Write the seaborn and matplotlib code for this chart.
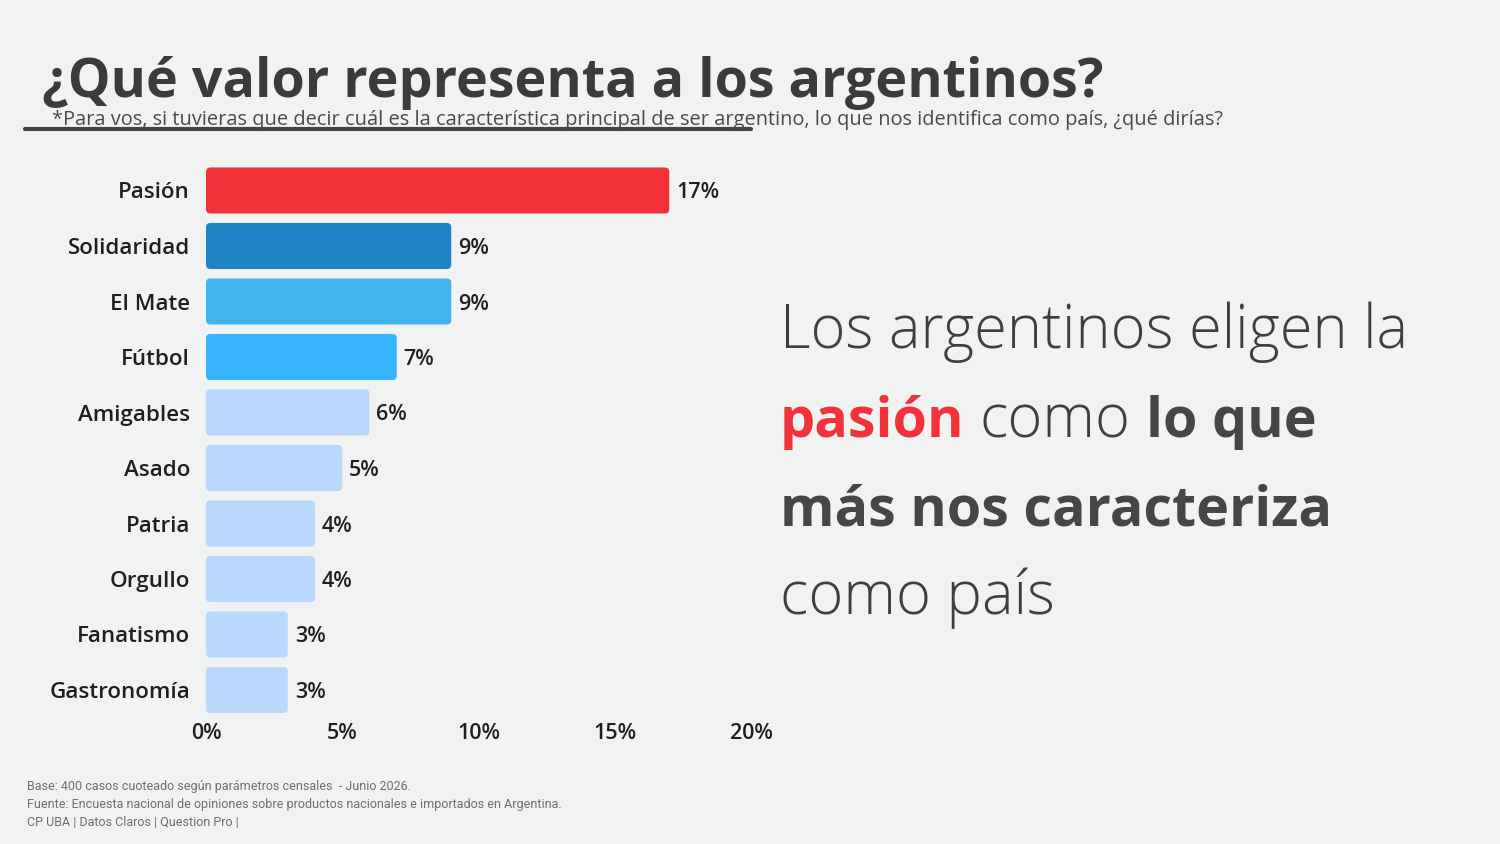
import matplotlib
matplotlib.use("Agg")
import matplotlib.pyplot as plt
import seaborn as sns
import pandas as pd
from matplotlib.patches import FancyBboxPatch
from matplotlib.lines import Line2D

# ---------------- data ----------------
categories = ["Pasión", "Solidaridad", "El Mate", "Fútbol", "Amigables",
              "Asado", "Patria", "Orgullo", "Fanatismo", "Gastronomía"]
values = [17, 9, 9, 7, 6, 5, 4, 4, 3, 3]
bar_colors = ["#F2323B", "#2183C3", "#41B5EC", "#38B3FD",
              "#B8D8FC", "#B8D8FC", "#B8D8FC", "#B8D8FC", "#B8D8FC", "#B8D8FC"]
x_ticks = [0, 5, 10, 15, 20]
x_tick_labels = ["0%", "5%", "10%", "15%", "20%"]
title = "¿Qué valor representa a los argentinos?"
subtitle = ("*Para vos, si tuvieras que decir cuál es la característica principal de ser "
            "argentino, lo que nos identifica como país, ¿qué dirías?")
footer_lines = [
    "Base: 400 casos cuoteado según parámetros censales  - Junio 2026.",
    "Fuente: Encuesta nacional de opiniones sobre productos nacionales e importados en Argentina.",
    "CP UBA | Datos Claros | Question Pro |",
]

# ---------------- style ----------------
BG = "#F1F3F2"
W, H = 1500, 844
sns.set_theme(style="white")
FAM = ["Open Sans", "DejaVu Sans"]
plt.rcParams["font.family"] = FAM

fig = plt.figure(figsize=(15, 8.44), dpi=100, facecolor=BG)
renderer = fig.canvas.get_renderer()


def width_px(s, size, weight, family=FAM):
    t = fig.text(0, 0, s, fontsize=size, fontweight=weight, family=family)
    w = t.get_window_extent(renderer).width
    t.remove()
    return w


def fit(s, target, weight, family=FAM):
    return 30 * target / width_px(s, 30, weight, family)


def fx(px):
    return px / W


def fy(px):
    return 1 - px / H


# ---------------- axes / bars ----------------
ax_top, ax_bot = 162.75, 717.75
ax = fig.add_axes([fx(206), fy(ax_bot), 545 / W, (ax_bot - ax_top) / H])
ax.set_facecolor(BG)
df = pd.DataFrame({"cat": categories, "val": values})
sns.barplot(data=df, x="val", y="cat", hue="cat", order=categories,
            hue_order=categories, palette=bar_colors, saturation=1,
            width=0.83, legend=False, ax=ax, orient="h")
ax.set_xlim(0, 20)
ax.set_ylim(len(categories) - 0.5, -0.5)

LW = "semibold"
lab_size = fit("Solidaridad", 122, LW)
val_size = fit("10%", 43, LW)
lab_color = "#1F1F1F"

for cont, v in zip(ax.containers, values):
    texts = ax.bar_label(cont, labels=[f"{v}%"], padding=5, fontsize=val_size,
                         fontweight=LW, color=lab_color)
    for t in texts:
        t.set_verticalalignment("center_baseline")

# rounded corners
for p in list(ax.patches):
    x, y, w, h = p.get_x(), p.get_y(), p.get_width(), p.get_height()
    if w <= 0:
        continue
    fc = p.get_facecolor()
    p.set_visible(False)
    fb = FancyBboxPatch((x, y), w, h, boxstyle="round,pad=0,rounding_size=0.16",
                        mutation_aspect=0.49, fc=fc, ec="none", zorder=2)
    ax.add_patch(fb)

ax.set_xticks(x_ticks)
ax.set_xticklabels(x_tick_labels, fontsize=val_size, fontweight=LW, color=lab_color)
ax.tick_params(axis="x", length=0, pad=4)
ax.tick_params(axis="y", length=0, pad=11.5)
for t in ax.get_yticklabels():
    t.set_fontsize(lab_size)
    t.set_fontweight(LW)
    t.set_color(lab_color)
ax.set_xlabel("")
ax.set_ylabel("")
for s in ax.spines.values():
    s.set_visible(False)
ax.grid(False)

# ---------------- titles ----------------
fig.text(fx(42), fy(97), title, fontsize=fit(title, 1063, "bold"), fontweight="bold",
         color="#3B3B3B", va="baseline", ha="left")
fig.text(fx(52), fy(125), subtitle, fontsize=fit(subtitle, 1173, "normal"),
         fontweight="normal", color="#4A4A4A", va="baseline", ha="left")
fig.add_artist(Line2D([fx(25), fx(751)], [fy(128.5), fy(128.5)], lw=3,
                      color="#444444", transform=fig.transFigure))

# ---------------- right paragraph ----------------
reg_size = fit("Los argentinos eligen la", 628, "light")
bold_size = fit("más nos caracteriza", 552, "bold")
para_col = "#3F3F3F"
bold_col = "#464646"
red = "#F2323B"
gap = 15

lines = [
    [("Los argentinos eligen la", "light", para_col, reg_size)],
    [("pasión", "bold", red, bold_size), ("como", "light", para_col, reg_size),
     ("lo que", "bold", bold_col, bold_size)],
    [("más nos caracteriza", "bold", bold_col, bold_size)],
    [("como país", "light", para_col, reg_size)],
]
baselines = [348, 437, 525, 614]
for segs, base in zip(lines, baselines):
    xpos = 780
    for txt, wt, col, sz in segs:
        fig.text(fx(xpos), fy(base), txt, fontsize=sz, fontweight=wt, color=col,
                 va="baseline", ha="left")
        xpos += width_px(txt, sz, wt) + gap

# ---------------- footer ----------------
ROB = ["Roboto", "DejaVu Sans"]
foot_size = fit(footer_lines[1], 530, "normal", ROB)
for s, b in zip(footer_lines, [790, 808, 826]):
    fig.text(fx(27), fy(b), s, fontsize=foot_size, family=ROB, color="#6E6E6E",
             va="baseline", ha="left")

fig.savefig("out.png", dpi=100, facecolor=BG)
